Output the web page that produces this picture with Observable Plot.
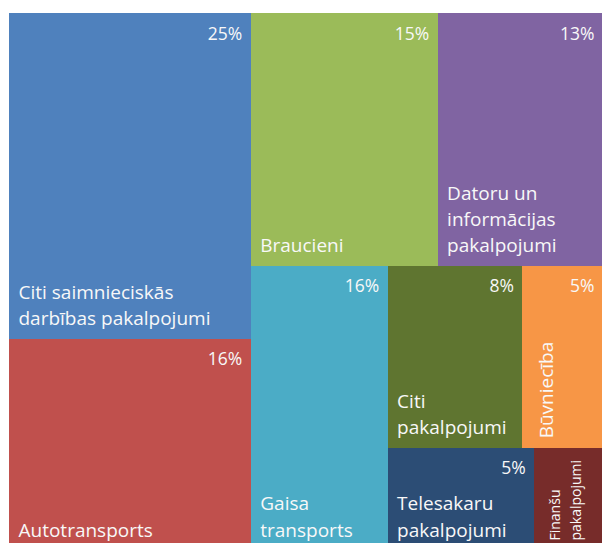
<!DOCTYPE html>
<html><head><meta charset="utf-8">
<script src="https://cdn.jsdelivr.net/npm/d3@7"></script>
<script src="https://cdn.jsdelivr.net/npm/@observablehq/plot@0.6"></script>
<style>html,body{margin:0;padding:0;overflow:hidden;background:#fff}</style>
</head><body><div id="chart"></div>
<script>
const categories = ["Citi saimnieciskās darbības pakalpojumi", "Autotransports", "Braucieni", "Datoru un informācijas pakalpojumi", "Gaisa transports", "Citi pakalpojumi", "Būvniecība", "Telesakaru pakalpojumi", "Finanšu pakalpojumi"];
const displayNames = ["Citi saimnieciskās\ndarbības pakalpojumi", "Autotransports", "Braucieni", "Datoru un\ninformācijas\npakalpojumi", "Gaisa\ntransports", "Citi\npakalpojumi", "Būvniecība", "Telesakaru\npakalpojumi", "Finanšu\npakalpojumi"];
const areaShares = [24.7, 16.0, 14.8, 13.1, 12.2, 7.7, 4.6, 4.7, 2.2];
const percentLabels = ["25%", "16%", "15%", "13%", "16%", "8%", "5%", "5%", ""];
const colors = ["#4F81BD", "#C0504D", "#9BBB59", "#8064A2", "#4BACC6", "#5F7530", "#F79646", "#2C4D75", "#772C2A"];
const groups = ["A", "A", "B1", "B1", "B2", "B4", "B4", "B5", "B5"];

const node = (name, dir) => ({name, dir, children: []});
const G = {A: node("A", "v"), B1: node("B1", "h"), B2: node("B2", "h"), B4: node("B4", "h"), B5: node("B5", "h")};
categories.forEach((c, i) => G[groups[i]].children.push({i, name: c, value: areaShares[i]}));
G.B2.children.push({name: "B3", dir: "v", children: [G.B4, G.B5]});
const tree = {name: "root", dir: "h", children: [G.A, {name: "B", dir: "v", children: [G.B1, G.B2]}]};

const h = d3.hierarchy(tree).sum(d => d.value ?? 0);
d3.treemap().size([1, 1]).round(false)
  .tile((n, x0, y0, x1, y1) => (n.data.dir === "h" ? d3.treemapDice : d3.treemapSlice)(n, x0, y0, x1, y1))(h);

const cells = h.leaves().map(l => ({
  i: l.data.i, x0: l.x0, x1: l.x1, y0: l.y0, y1: l.y1,
  label: displayNames[l.data.i], pct: percentLabels[l.data.i], color: colors[l.data.i]
}));
const rotatedNames = new Set(["Būvniecība", "Finanšu pakalpojumi"]);
const flat = cells.filter(d => !rotatedNames.has(categories[d.i]));
const rot = cells.filter(d => rotatedNames.has(categories[d.i]));

const chart = Plot.plot({
  width: 602, height: 550, margin: 0,
  style: {fontFamily: "'Open Sans', sans-serif", background: "#fff"},
  x: {domain: [0, 1], range: [9, 603], axis: null},
  y: {domain: [0, 1], range: [13, 550], axis: null},
  color: {type: "identity"},
  marks: [
    Plot.rect(cells, {x1: "x0", x2: "x1", y1: "y0", y2: "y1", fill: "color", shapeRendering: "crispEdges"}),
    Plot.text(flat, {x: "x0", y: "y1", text: "label", textAnchor: "start", lineAnchor: "bottom", dx: 9, dy: -14, fill: "#f8f8f8", fontSize: 19, lineHeight: 1.38}),
    Plot.text(rot, {x: "x0", y: "y1", text: "label", rotate: -90, textAnchor: "start", lineAnchor: "top", dx: 10, dy: -10, fill: "#f8f8f8", fontSize: d => d.i === 8 ? 14 : 19, lineHeight: 1.5}),
    Plot.text(cells, {x: "x1", y: "y0", text: "pct", textAnchor: "end", lineAnchor: "bottom", dx: -9, dy: 26, fill: "#f8f8f8", fontSize: 17.5})
  ]
});
document.getElementById("chart").appendChild(chart);
</script>
</body></html>
